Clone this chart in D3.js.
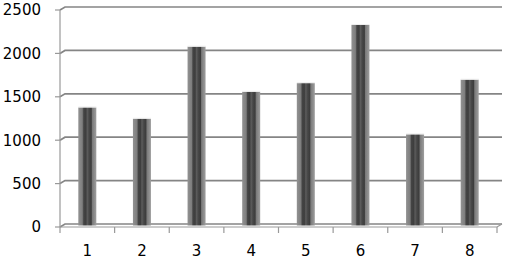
<!DOCTYPE html>
<html><head><meta charset="utf-8">
<script src="https://cdn.jsdelivr.net/npm/d3@7"></script>
<style>html,body{margin:0;padding:0;background:#fff;}svg{display:block;}</style>
</head><body>
<svg id="c" width="508" height="260"></svg>
<script>
const categories = ["1","2","3","4","5","6","7","8"];
const values = [1360, 1230, 2060, 1540, 1640, 2310, 1050, 1680];
const yTicks = [0, 500, 1000, 1500, 2000, 2500];

const svg = d3.select("#c");
const pLeft = 60, pRight = 497, pTop = 10, pBottom = 227;
const dx = 5, dy = -3; // depth offset of back wall
const x = d3.scaleBand().domain(categories).range([pLeft, pRight]);
const y = d3.scaleLinear().domain([0, 2500]).range([pBottom, pTop]);

const defs = svg.append("defs");
const g = defs.append("linearGradient").attr("id", "cyl").attr("x1", "0").attr("x2", "1").attr("y1", "0").attr("y2", "0");
[[0, "#929292"], [0.22, "#7e7e7e"], [0.3, "#444"], [0.42, "#3e3e3e"], [0.5, "#5c5c5c"], [0.6, "#474747"], [0.72, "#3c3c3c"], [0.78, "#7a7a7a"], [1, "#9e9e9e"]]
  .forEach(([o, c]) => g.append("stop").attr("offset", o).attr("stop-color", c));

// back wall gridlines + side wall diagonals
const grid = svg.append("g");
yTicks.forEach(t => {
  grid.append("path")
    .attr("d", `M${pLeft},${y(t)}L${pLeft + dx},${y(t) + dy}L${pRight + dx},${y(t) + dy}`)
    .attr("fill", "none").attr("stroke", "#858585").attr("stroke-width", 1.7);
});
// floor front edge + right edge
grid.append("path")
  .attr("d", `M${pLeft},${pBottom}L${pRight},${pBottom}L${pRight + dx},${pBottom + dy}`)
  .attr("fill", "none").attr("stroke", "#999").attr("stroke-width", 1.2);
// y axis
svg.append("line").attr("x1", pLeft).attr("x2", pLeft).attr("y1", y(2500)).attr("y2", pBottom)
  .attr("stroke", "#999").attr("stroke-width", 1.2);
yTicks.forEach(t => {
  svg.append("line").attr("x1", pLeft - 5).attr("x2", pLeft).attr("y1", y(t)).attr("y2", y(t))
    .attr("stroke", "#999").attr("stroke-width", 1.2);
});
// x ticks
const xt = categories.map(c => x(c)).concat([pRight]);
xt.forEach(p => {
  svg.append("line").attr("x1", p).attr("x2", p).attr("y1", pBottom).attr("y2", pBottom + 6)
    .attr("stroke", "#999").attr("stroke-width", 1.2);
});

// bars
const bw = 18, bdy = -1.5, bdx = 0;
svg.append("g").selectAll("rect").data(values).join("rect")
  .attr("x", (d, i) => x(categories[i]) + x.bandwidth() / 2 - bw / 2 + bdx)
  .attr("y", d => y(d) + bdy)
  .attr("width", bw)
  .attr("height", d => pBottom - y(d))
  .attr("fill", "url(#cyl)");
svg.append("g").selectAll("line").data(values).join("line")
  .attr("x1", (d, i) => x(categories[i]) + x.bandwidth() / 2 - bw / 2 + bdx)
  .attr("x2", (d, i) => x(categories[i]) + x.bandwidth() / 2 + bw / 2 + bdx)
  .attr("y1", d => y(d) + bdy - 0.5).attr("y2", d => y(d) + bdy - 0.5)
  .attr("stroke", "#eee").attr("stroke-width", 1);

// labels
svg.append("g").selectAll("text").data(yTicks).join("text")
  .attr("x", 41).attr("y", d => y(d)).attr("dy", "0.36em")
  .attr("text-anchor", "end")
  .style("font-family", "DejaVu Sans").style("font-size", "15px").attr("fill", "#000")
  .text(d => d);
svg.append("g").selectAll("text").data(categories).join("text")
  .attr("x", d => x(d) + x.bandwidth() / 2).attr("y", 256)
  .attr("text-anchor", "middle")
  .style("font-family", "DejaVu Sans").style("font-size", "15px").attr("fill", "#000")
  .text(d => d);
</script>
</body></html>
